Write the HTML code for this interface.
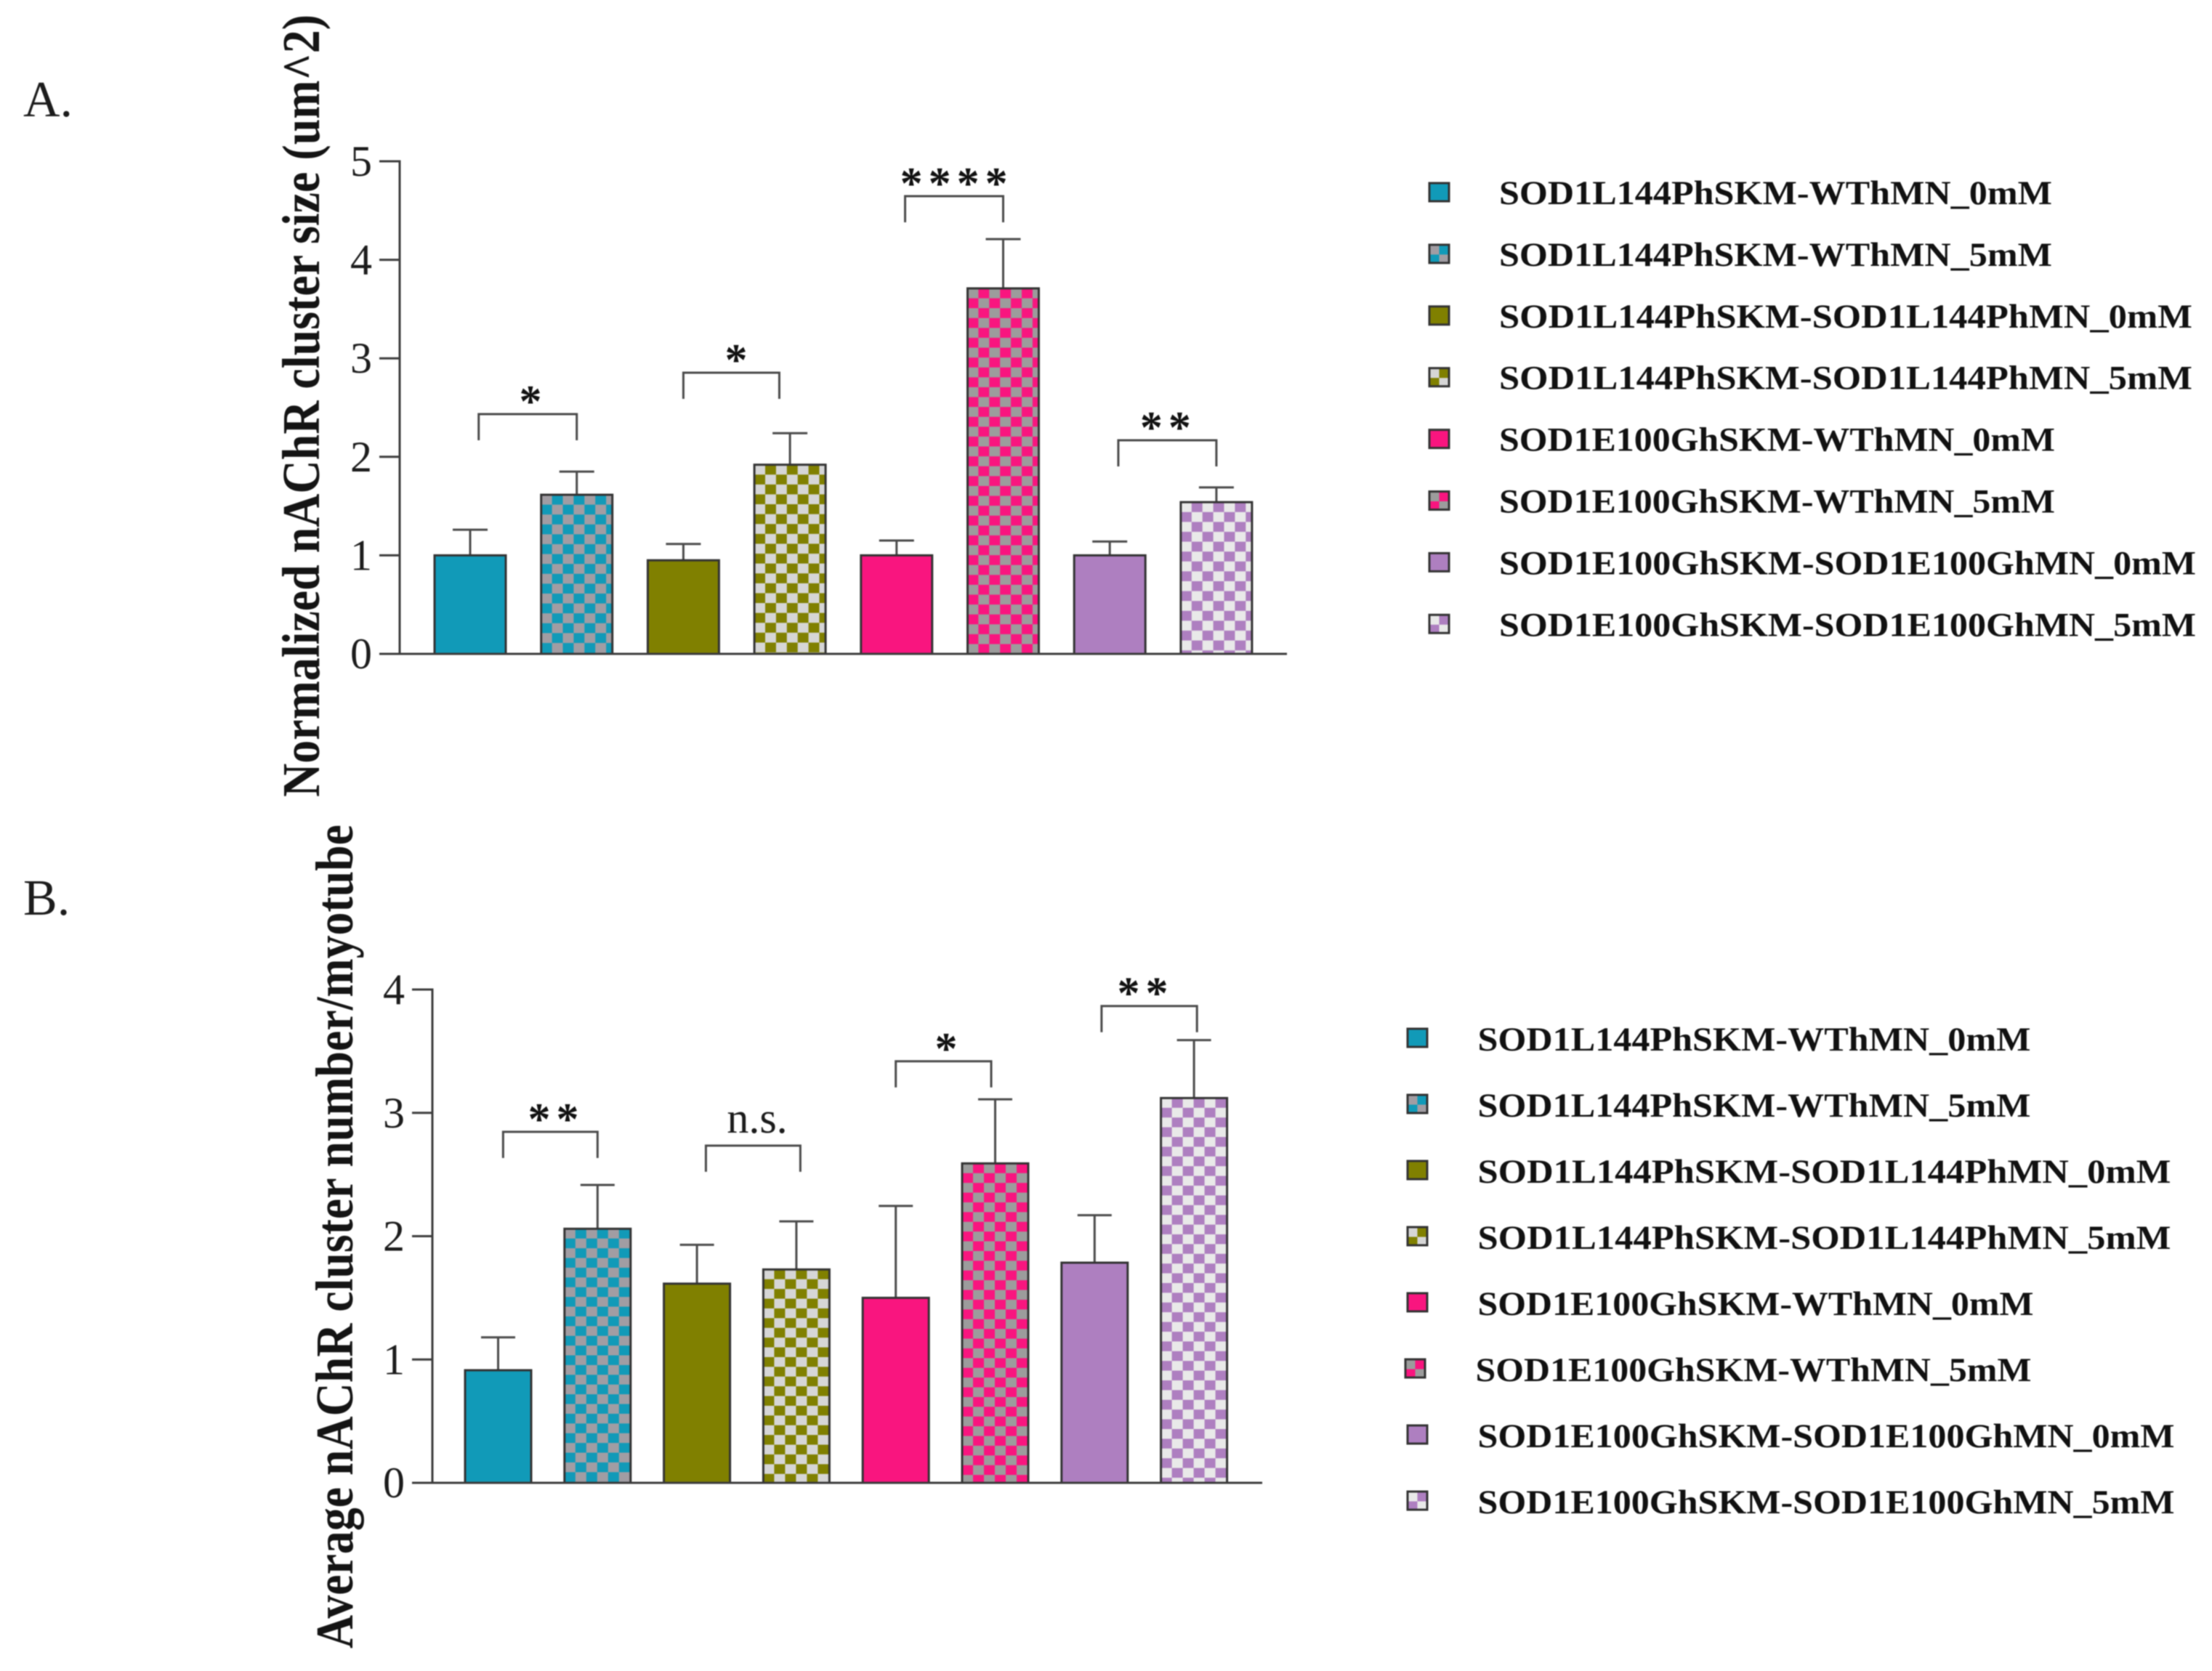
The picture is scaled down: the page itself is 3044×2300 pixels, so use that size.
<!DOCTYPE html>
<html lang="en">
<head>
<meta charset="utf-8">
<title>nAChR cluster size and number</title>
<style>
  html, body { margin: 0; padding: 0; background: #fff; }
  svg { display: block; filter: blur(0.7px); }
  text { font-family: "Liberation Serif", serif; fill: #1c1c1c; }
  .axis-title { font-size: 73px; font-weight: bold; fill: #141414; }
  .panel-letter { font-size: 70px; }
  .tick { font-size: 60px; }
  .legend { font-size: 47px; font-weight: bold; fill: #111; }
  .star { font-size: 62px; font-weight: bold; letter-spacing: 7px; fill: #111; }
  .ns { font-size: 60px; }
</style>
</head>
<body>
<svg id="fig" xmlns="http://www.w3.org/2000/svg" width="3044" height="2300" viewBox="0 0 3044 2300">
  <defs id="defs"></defs>
  <rect x="0" y="0" width="3044" height="2300" fill="#ffffff"></rect>
  <text class="panel-letter" x="32" y="160">A.</text>
  <text class="panel-letter" x="32" y="1259">B.</text>
  <text class="axis-title" transform="translate(439 1097) rotate(-90)" textLength="1077" lengthAdjust="spacingAndGlyphs">Normalized nAChR cluster size (um^2)</text>
  <text class="axis-title" transform="translate(485 2269) rotate(-90)" textLength="1134" lengthAdjust="spacingAndGlyphs">Average nAChR cluster number/myotube</text>
  <g id="panelA"></g>
  <g id="panelB"></g>
  <g id="legendA"></g>
  <g id="legendB"></g>
</svg>
<script>
// ---- Data ----
const categories = [
  "SOD1L144PhSKM-WThMN_0mM",
  "SOD1L144PhSKM-WThMN_5mM",
  "SOD1L144PhSKM-SOD1L144PhMN_0mM",
  "SOD1L144PhSKM-SOD1L144PhMN_5mM",
  "SOD1E100GhSKM-WThMN_0mM",
  "SOD1E100GhSKM-WThMN_5mM",
  "SOD1E100GhSKM-SOD1E100GhMN_0mM",
  "SOD1E100GhSKM-SOD1E100GhMN_5mM"
];
const panelATicks = [0, 1, 2, 3, 4, 5];
const panelAValues = [1.0, 1.615, 0.95, 1.92, 1.0, 3.71, 1.0, 1.54];
const panelAErrors = [0.26, 0.235, 0.165, 0.32, 0.15, 0.50, 0.14, 0.15];
const panelASigFrom = [0.08, 2, 4.08, 6.08];
const panelASigTo = [1, 2.9, 5, 7];
const panelASigLevel = [2.434, 2.854, 4.646, 2.168];
const panelASigLabel = ["*", "*", "****", "**"];
const panelASigLabelAt = [0.552, 2.481, 4.537, 6.523];

const panelBTicks = [0, 1, 2, 3, 4];
const panelBValues = [0.913, 2.06, 1.615, 1.73, 1.5, 2.59, 1.785, 3.12];
const panelBErrors = [0.267, 0.355, 0.315, 0.39, 0.745, 0.52, 0.385, 0.47];
const panelBSigFrom = [0.05, 2.09, 4.0, 6.07];
const panelBSigTo = [1.0, 3.04, 4.96, 7.03];
const panelBSigLevel = [2.846, 2.734, 3.418, 3.866];
const panelBSigLabel = ["**", "n.s.", "*", "**"];
const panelBSigLabelAt = [0.556, 2.606, 4.492, 6.484];

// ---- Styles ----
const baseColors = ["#119ab8", "#119ab8", "#808000", "#808000", "#f9157f", "#f9157f", "#ae7fc0", "#ae7fc0"];
const checkColors = [null, "#a19da3", null, "#d6d6d6", null, "#9c9c9c", null, "#e9e9e9"];
const LINE = "#3c3c3c";
const NS = "http://www.w3.org/2000/svg";
const defs = document.getElementById("defs");

function shape(parent, tag, props) {
  const el = document.createElementNS(NS, tag);
  for (const k in props) el.setAttribute(k, props[k]);
  parent.appendChild(el);
  return el;
}

function linearScale(d0, d1, r0, r1) {
  return function (v) { return r0 + (v - d0) * (r1 - r0) / (d1 - d0); };
}

function checkerPattern(id, x, y, cw, rh, light, dark) {
  const p = shape(defs, "pattern", { id: id, patternUnits: "userSpaceOnUse", x: x, y: y, width: 2 * cw, height: 2 * rh });
  shape(p, "rect", { x: 0, y: 0, width: 2 * cw, height: 2 * rh, fill: dark });
  shape(p, "rect", { x: 0, y: 0, width: cw, height: rh, fill: light });
  shape(p, "rect", { x: cw, y: rh, width: cw, height: rh, fill: light });
}

function drawPanel(root, key, cfg) {
  const y = linearScale(0, cfg.ticks[cfg.ticks.length - 1], cfg.y0, cfg.yTop);
  const x = linearScale(0, 1, cfg.x0, cfg.x0 + cfg.step);

  cfg.values.forEach(function (v, i) {
    const cx = x(i);
    const left = cx - cfg.barW / 2;
    const top = y(v);
    const capY = y(v + cfg.errors[i]);

    const stem = shape(root, "line", { x1: cx, x2: cx, y1: top, y2: capY, stroke: "#4a4a4a", "stroke-width": 3 });
    
    

    const cap = shape(root, "line", { x1: cx - cfg.capW / 2, x2: cx + cfg.capW / 2, y1: capY, y2: capY, stroke: "#4a4a4a", "stroke-width": 3 });
    
    

    let fill = baseColors[i];
    if (checkColors[i]) {
      const id = key + "-check-" + i;
      checkerPattern(id, left, top, cfg.cellW, cfg.cellH, checkColors[i], baseColors[i]);
      fill = "url(#" + id + ")";
    }
    const bar = shape(root, "rect", { x: left, y: top, width: cfg.barW, height: cfg.y0 - top, fill: fill, stroke: "#333333", "stroke-width": 3 });
    
    
  });

  const yAxis = shape(root, "line", { x1: cfg.axisX, x2: cfg.axisX, y1: y(cfg.ticks[cfg.ticks.length - 1]) - 1.5, y2: cfg.y0 + 1.5, stroke: LINE, "stroke-width": 3 });
  
  

  const xAxis = shape(root, "line", { x1: cfg.axisX, x2: cfg.axisEnd, y1: cfg.y0, y2: cfg.y0, stroke: LINE, "stroke-width": 3 });
  
  

  cfg.ticks.forEach(function (t) {
    const ty = y(t);
    const tick = shape(root, "line", { x1: cfg.axisX - 28, x2: cfg.axisX, y1: ty, y2: ty, stroke: LINE, "stroke-width": 3 });
    
    

    const label = shape(root, "text", { class: "tick", x: cfg.axisX - 38, y: ty + 20, "text-anchor": "end" });
    label.textContent = String(t);
    
    
  });

  cfg.sigFrom.forEach(function (from, i) {
    const xa = x(from);
    const xb = x(cfg.sigTo[i]);
    const ty = y(cfg.sigLevel[i]);
    const bracket = shape(root, "path", { d: "M" + xa + " " + (ty + 36) + "V" + ty + "H" + xb + "V" + (ty + 36), fill: "none", stroke: "#4a4a4a", "stroke-width": 3 });
    
    

    const isStars = cfg.sigLabel[i].charAt(0) === "*";
    const multi = cfg.sigLabel[i].length > 1;
    const mark = shape(root, "text", {
      class: isStars ? "star" : "ns",
      x: x(cfg.sigLabelAt[i]) + (isStars ? (multi ? 4 : 2) : 0),
      y: isStars ? ty + 3 : ty - 18,
      "text-anchor": "middle"
    });
    if (isStars) {
      mark.style.letterSpacing = (multi ? 8 : 0) + "px";
    }
    mark.textContent = cfg.sigLabel[i];
    
    
  });
}

function drawLegend(root, key, cfg) {
  categories.forEach(function (name, i) {
    const sy = cfg.swatchY + i * cfg.rowStep;
    const shift = (i === cfg.shiftRow) ? -3 : 0;
    const sx = cfg.swatchX + shift;
    const s = 27;
    let fill = baseColors[i];
    if (checkColors[i]) {
      const id = key + "-swatch-check-" + i;
      checkerPattern(id, sx, sy, s / 2, s / 2, checkColors[i], baseColors[i]);
      fill = "url(#" + id + ")";
    }
    const swatch = shape(root, "rect", { x: sx, y: sy, width: s, height: s - 2, fill: fill, stroke: "#333333", "stroke-width": 3 });
    
    

    const len = name.length < 24 ? (name.indexOf("E100") > 0 ? 765 : 761) : (name.indexOf("E100") > 0 ? 959 : 954);
    const label = shape(root, "text", { class: "legend", x: cfg.textX + shift, y: cfg.textY + i * cfg.rowStep, textLength: len, lengthAdjust: "spacingAndGlyphs" });
    label.textContent = name;
    
    
  });
}

drawPanel(document.getElementById("panelA"), "panel-a", {
  ticks: panelATicks, values: panelAValues, errors: panelAErrors,
  sigFrom: panelASigFrom, sigTo: panelASigTo, sigLevel: panelASigLevel,
  sigLabel: panelASigLabel, sigLabelAt: panelASigLabelAt,
  y0: 900, yTop: 222, x0: 647, step: 146.7, barW: 98, capW: 48,
  axisX: 550, axisEnd: 1771, cellW: 14.9, cellH: 13.6
});

drawPanel(document.getElementById("panelB"), "panel-b", {
  ticks: panelBTicks, values: panelBValues, errors: panelBErrors,
  sigFrom: panelBSigFrom, sigTo: panelBSigTo, sigLevel: panelBSigLevel,
  sigLabel: panelBSigLabel, sigLabelAt: panelBSigLabelAt,
  y0: 2041, yTop: 1362, x0: 685.5, step: 136.8, barW: 91, capW: 47,
  axisX: 595, axisEnd: 1737, cellW: 15, cellH: 13.4
});

drawLegend(document.getElementById("legendA"), "legend-a", {
  swatchX: 1967, swatchY: 252, textX: 2063, textY: 281, rowStep: 84.9, shiftRow: -1
});

drawLegend(document.getElementById("legendB"), "legend-b", {
  swatchX: 1937, swatchY: 1416, textX: 2033.5, textY: 1446, rowStep: 91, shiftRow: 5
});
</script>
</body>
</html>
